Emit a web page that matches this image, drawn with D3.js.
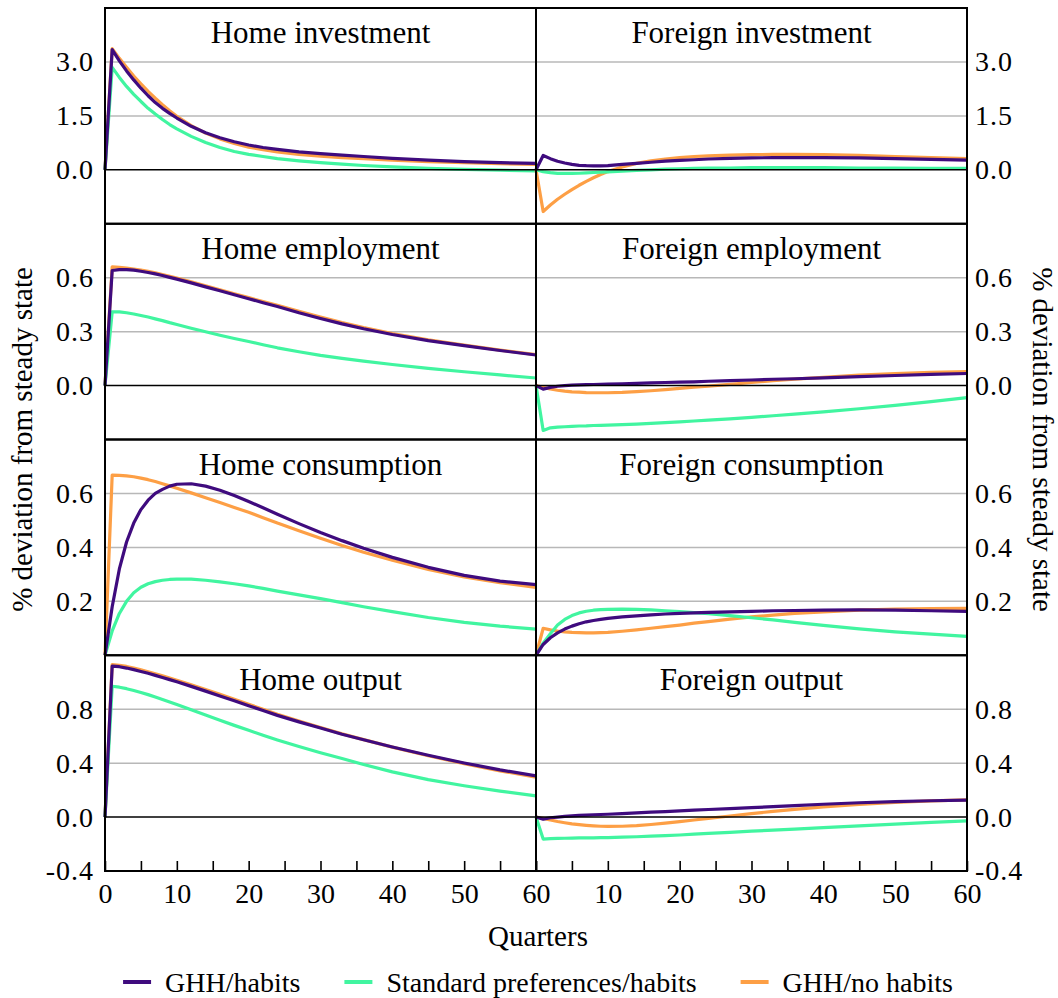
<!DOCTYPE html>
<html>
<head>
<meta charset="utf-8">
<script src="https://cdn.jsdelivr.net/npm/d3@7"></script>
<style>
  html, body { margin: 0; padding: 0; background: #ffffff; }
  svg { display: block; font-family: "Liberation Serif", "Times New Roman", Times, serif; }
</style>
</head>
<body>
<svg id="chart" width="1058" height="998"></svg>
<script>
// Impulse responses, % deviation from steady state, by quarter after the shock
const quarters = [0, 1, 2, 3, 4, 5, 6, 7, 8, 9, 10, 12, 14, 16, 18, 20, 22, 24, 27, 30, 33, 36, 40, 45, 50, 55, 60];

const seriesNames = ["GHH/habits", "Standard preferences/habits", "GHH/no habits"];
const seriesColors = ["#3f0b7e", "#41f5a0", "#fd9f45"];

// Home investment
const homeInvGHH   = [0, 3.34, 3.03, 2.75, 2.50, 2.27, 2.06, 1.87, 1.71, 1.57, 1.44, 1.21, 1.03, 0.89, 0.78, 0.69, 0.62, 0.57, 0.50, 0.45, 0.41, 0.37, 0.32, 0.27, 0.23, 0.20, 0.18];
const homeInvStd   = [0, 2.85, 2.57, 2.32, 2.10, 1.90, 1.71, 1.55, 1.40, 1.26, 1.14, 0.93, 0.76, 0.62, 0.51, 0.43, 0.37, 0.31, 0.25, 0.20, 0.16, 0.12, 0.08, 0.04, 0.01, -0.01, -0.03];
const homeInvNoHab = [0, 3.37, 3.10, 2.85, 2.61, 2.39, 2.18, 1.99, 1.81, 1.64, 1.49, 1.23, 1.02, 0.86, 0.73, 0.63, 0.56, 0.50, 0.43, 0.38, 0.34, 0.31, 0.27, 0.23, 0.20, 0.17, 0.15];

// Foreign investment
const forInvGHH    = [0, 0.40, 0.31, 0.24, 0.19, 0.15, 0.125, 0.115, 0.11, 0.112, 0.118, 0.15, 0.18, 0.21, 0.24, 0.26, 0.28, 0.30, 0.32, 0.33, 0.34, 0.34, 0.34, 0.33, 0.31, 0.29, 0.27];
const forInvStd    = [0, -0.05, -0.08, -0.10, -0.10, -0.10, -0.095, -0.085, -0.075, -0.065, -0.055, -0.035, -0.015, 0.0, 0.02, 0.03, 0.04, 0.05, 0.05, 0.06, 0.06, 0.06, 0.06, 0.05, 0.05, 0.04, 0.04];
const forInvNoHab  = [0, -1.16, -0.98, -0.82, -0.68, -0.55, -0.43, -0.32, -0.22, -0.13, -0.05, 0.08, 0.18, 0.25, 0.30, 0.34, 0.37, 0.39, 0.41, 0.42, 0.43, 0.43, 0.42, 0.40, 0.37, 0.34, 0.31];

// Home employment
const homeEmpGHH   = [0, 0.64, 0.645, 0.645, 0.642, 0.636, 0.629, 0.621, 0.612, 0.602, 0.592, 0.571, 0.549, 0.527, 0.505, 0.483, 0.461, 0.44, 0.405, 0.373, 0.343, 0.316, 0.284, 0.25, 0.222, 0.195, 0.17];
const homeEmpStd   = [0, 0.41, 0.41, 0.405, 0.398, 0.39, 0.381, 0.371, 0.361, 0.35, 0.34, 0.319, 0.299, 0.28, 0.262, 0.245, 0.227, 0.21, 0.188, 0.168, 0.151, 0.136, 0.117, 0.096, 0.077, 0.059, 0.042];
const homeEmpNoHab = [0, 0.66, 0.657, 0.653, 0.648, 0.642, 0.635, 0.627, 0.618, 0.608, 0.598, 0.577, 0.555, 0.533, 0.511, 0.489, 0.467, 0.446, 0.413, 0.381, 0.35, 0.322, 0.289, 0.254, 0.225, 0.197, 0.172];

// Foreign employment
const forEmpGHH    = [0, -0.02, -0.01, -0.004, 0.0, 0.002, 0.004, 0.005, 0.006, 0.007, 0.008, 0.01, 0.012, 0.015, 0.017, 0.019, 0.021, 0.024, 0.027, 0.031, 0.035, 0.038, 0.043, 0.05, 0.056, 0.062, 0.067];
const forEmpStd    = [0, -0.25, -0.235, -0.231, -0.229, -0.227, -0.225, -0.224, -0.222, -0.221, -0.22, -0.217, -0.214, -0.21, -0.206, -0.202, -0.197, -0.192, -0.185, -0.177, -0.168, -0.159, -0.146, -0.129, -0.11, -0.089, -0.067];
const forEmpNoHab  = [0, -0.01, -0.019, -0.026, -0.031, -0.035, -0.037, -0.039, -0.04, -0.04, -0.04, -0.038, -0.034, -0.029, -0.023, -0.016, -0.009, -0.003, 0.007, 0.017, 0.027, 0.036, 0.046, 0.058, 0.067, 0.073, 0.077];

// Home consumption
const homeConGHH   = [0, 0.18, 0.32, 0.42, 0.49, 0.54, 0.575, 0.60, 0.615, 0.627, 0.634, 0.636, 0.627, 0.612, 0.592, 0.57, 0.547, 0.523, 0.488, 0.455, 0.425, 0.397, 0.363, 0.326, 0.296, 0.275, 0.262];
const homeConStd   = [0, 0.09, 0.155, 0.20, 0.232, 0.252, 0.265, 0.273, 0.278, 0.281, 0.282, 0.282, 0.278, 0.272, 0.265, 0.257, 0.248, 0.238, 0.224, 0.21, 0.195, 0.18, 0.162, 0.14, 0.122, 0.108, 0.097];
const homeConNoHab = [0, 0.668, 0.667, 0.665, 0.662, 0.657, 0.651, 0.644, 0.636, 0.628, 0.619, 0.602, 0.584, 0.566, 0.548, 0.53, 0.51, 0.49, 0.462, 0.434, 0.407, 0.382, 0.352, 0.318, 0.29, 0.269, 0.252];

// Foreign consumption
const forConGHH    = [0, 0.04, 0.065, 0.083, 0.097, 0.108, 0.117, 0.124, 0.129, 0.133, 0.137, 0.142, 0.146, 0.15, 0.153, 0.155, 0.157, 0.159, 0.161, 0.163, 0.165, 0.166, 0.167, 0.168, 0.167, 0.165, 0.163];
const forConStd    = [0, 0.045, 0.08, 0.112, 0.133, 0.147, 0.157, 0.163, 0.167, 0.169, 0.17, 0.171, 0.17, 0.168, 0.165, 0.162, 0.158, 0.154, 0.147, 0.139, 0.131, 0.122, 0.111, 0.098, 0.087, 0.078, 0.07];
const forConNoHab  = [0, 0.10, 0.094, 0.09, 0.087, 0.085, 0.084, 0.083, 0.083, 0.084, 0.085, 0.089, 0.094, 0.10, 0.106, 0.112, 0.119, 0.125, 0.134, 0.142, 0.149, 0.155, 0.161, 0.167, 0.171, 0.173, 0.174];

// Home output
const homeOutGHH   = [0, 1.12, 1.115, 1.105, 1.093, 1.08, 1.066, 1.051, 1.035, 1.019, 1.003, 0.969, 0.934, 0.898, 0.862, 0.826, 0.79, 0.754, 0.706, 0.66, 0.614, 0.573, 0.52, 0.458, 0.401, 0.35, 0.306];
const homeOutStd   = [0, 0.97, 0.963, 0.952, 0.939, 0.924, 0.908, 0.89, 0.872, 0.853, 0.834, 0.795, 0.756, 0.718, 0.68, 0.643, 0.607, 0.572, 0.523, 0.477, 0.434, 0.39, 0.335, 0.278, 0.232, 0.192, 0.157];
const homeOutNoHab = [0, 1.13, 1.126, 1.117, 1.105, 1.092, 1.078, 1.063, 1.047, 1.031, 1.015, 0.981, 0.946, 0.91, 0.873, 0.836, 0.80, 0.763, 0.713, 0.664, 0.617, 0.574, 0.519, 0.455, 0.396, 0.343, 0.295];

// Foreign output
const forOutGHH    = [0, -0.015, -0.005, 0.0, 0.005, 0.009, 0.012, 0.015, 0.017, 0.019, 0.021, 0.026, 0.031, 0.036, 0.041, 0.046, 0.051, 0.056, 0.063, 0.07, 0.077, 0.085, 0.095, 0.106, 0.115, 0.121, 0.125];
const forOutStd    = [0, -0.163, -0.16, -0.158, -0.157, -0.156, -0.155, -0.155, -0.154, -0.153, -0.152, -0.149, -0.146, -0.142, -0.138, -0.133, -0.127, -0.121, -0.113, -0.105, -0.097, -0.089, -0.078, -0.065, -0.052, -0.04, -0.028];
const forOutNoHab  = [0, -0.01, -0.022, -0.033, -0.042, -0.05, -0.056, -0.061, -0.065, -0.068, -0.069, -0.068, -0.063, -0.055, -0.045, -0.034, -0.022, -0.01, 0.008, 0.026, 0.042, 0.057, 0.075, 0.094, 0.109, 0.12, 0.128];

// Row settings: vertical range and labelled ticks
const rowDomains = [[-1.5, 4.5], [-0.3, 0.9], [0, 0.8], [-0.4, 1.2]];
const rowTicks   = [[0, 1.5, 3.0], [0, 0.3, 0.6], [0.2, 0.4, 0.6], [-0.4, 0, 0.4, 0.8]];
const xTickValues = d3.range(0, 61, 5);

const panels = [
  { title: "Home investment",     row: 0, col: 0, series: [homeInvGHH, homeInvStd, homeInvNoHab] },
  { title: "Foreign investment",  row: 0, col: 1, series: [forInvGHH, forInvStd, forInvNoHab] },
  { title: "Home employment",     row: 1, col: 0, series: [homeEmpGHH, homeEmpStd, homeEmpNoHab] },
  { title: "Foreign employment",  row: 1, col: 1, series: [forEmpGHH, forEmpStd, forEmpNoHab] },
  { title: "Home consumption",    row: 2, col: 0, series: [homeConGHH, homeConStd, homeConNoHab] },
  { title: "Foreign consumption", row: 2, col: 1, series: [forConGHH, forConStd, forConNoHab] },
  { title: "Home output",         row: 3, col: 0, series: [homeOutGHH, homeOutStd, homeOutNoHab] },
  { title: "Foreign output",      row: 3, col: 1, series: [forOutGHH, forOutStd, forOutNoHab] }
];

// Layout
const plotLeft = 105, plotRight = 967, plotTop = 8, plotBottom = 871;
const colW = (plotRight - plotLeft) / 2;
const rowH = (plotBottom - plotTop) / 4;
const fmt = d => d.toFixed(1);

const svg = d3.select("#chart");
const gridG = svg.append("g");
const lineG = svg.append("g");
const frameG = svg.append("g");
const textG = svg.append("g");

const xScales = [0, 1].map(c =>
  d3.scaleLinear().domain([0, 60]).range([plotLeft + c * colW, plotLeft + (c + 1) * colW]));
const yScales = [0, 1, 2, 3].map(r =>
  d3.scaleLinear().domain(rowDomains[r]).range([plotTop + (r + 1) * rowH, plotTop + r * rowH]));

// Horizontal grid lines, spanning both columns of each row
rowTicks.forEach((ticks, r) => {
  const y = yScales[r];
  const [lo, hi] = rowDomains[r];
  ticks.filter(t => t !== 0 && t > lo && t < hi).forEach(t => {
    gridG.append("line")
      .attr("x1", plotLeft).attr("x2", plotRight)
      .attr("y1", y(t)).attr("y2", y(t))
      .attr("stroke", "#b8b8b8").attr("stroke-width", 1.5);
  });
  if (lo < 0 && hi > 0) {
    frameG.append("line")
      .attr("x1", plotLeft).attr("x2", plotRight)
      .attr("y1", y(0)).attr("y2", y(0))
      .attr("stroke", "#000").attr("stroke-width", 1.6);
  }
});

// Response lines; drawn so the GHH/habits line ends up on top
const drawOrder = [2, 1, 0];
panels.forEach(p => {
  const x = xScales[p.col], y = yScales[p.row];
  const line = d3.line().x((d, i) => x(quarters[i])).y(d => y(d)).curve(d3.curveLinear);
  drawOrder.forEach(s => {
    lineG.append("path")
      .datum(p.series[s])
      .attr("d", line)
      .attr("fill", "none")
      .attr("stroke", seriesColors[s])
      .attr("stroke-width", 3.2)
      .attr("stroke-linejoin", "round");
  });
  textG.append("text")
    .attr("x", x(30))
    .attr("y", y.range()[1] + 35)
    .attr("text-anchor", "middle")
    .attr("font-size", 31)
    .attr("fill", "#000")
    .text(p.title);
});

// Panel frames
for (let r = 0; r < 4; r++) {
  for (let c = 0; c < 2; c++) {
    frameG.append("rect")
      .attr("x", plotLeft + c * colW).attr("y", plotTop + r * rowH)
      .attr("width", colW).attr("height", rowH)
      .attr("fill", "none").attr("stroke", "#000").attr("stroke-width", 2);
  }
}

// Y-axis labels on both outer sides
rowTicks.forEach((ticks, r) => {
  const left = d3.axisLeft(yScales[r]).tickValues(ticks).tickSize(0).tickPadding(11).tickFormat(fmt);
  const right = d3.axisRight(yScales[r]).tickValues(ticks).tickSize(0).tickPadding(8).tickFormat(fmt);
  [[left, plotLeft], [right, plotRight]].forEach(([ax, xPos]) => {
    const g = textG.append("g").attr("transform", `translate(${xPos},0)`).call(ax);
    g.select(".domain").remove();
    g.selectAll("text").attr("font-size", 28).attr("letter-spacing", 1).attr("fill", "#000");
    g.attr("font-family", null).attr("font-size", null);
  });
});

// X axes: inward tick marks every 5 quarters, labels every 10
[0, 1].forEach(c => {
  const ax = d3.axisBottom(xScales[c])
    .tickValues(xTickValues)
    .tickSize(-10)
    .tickPadding(12)
    .tickFormat(d => (d % 10 === 0 && !(c === 1 && d === 0)) ? d : "");
  const g = textG.append("g").attr("transform", `translate(0,${plotBottom})`).call(ax);
  g.select(".domain").remove();
  g.selectAll("line").attr("stroke", "#000").attr("stroke-width", 1.6);
  g.selectAll("text").attr("font-size", 28).attr("fill", "#000");
  g.attr("font-family", null).attr("font-size", null);
});

// Axis titles
textG.append("text")
  .attr("x", (plotLeft + plotRight) / 2 + 2).attr("y", 946)
  .attr("text-anchor", "middle").attr("font-size", 29)
  .text("Quarters");

textG.append("text")
  .attr("transform", `translate(22,${(plotTop + plotBottom) / 2}) rotate(-90)`)
  .attr("text-anchor", "middle").attr("dy", "0.35em").attr("font-size", 29)
  .text("% deviation from steady state");

textG.append("text")
  .attr("transform", `translate(1043,${(plotTop + plotBottom) / 2}) rotate(90)`)
  .attr("text-anchor", "middle").attr("dy", "0.35em").attr("font-size", 29)
  .text("% deviation from steady state");

// Legend, centred under the plot
const legend = svg.append("g");
const swatchW = 28, swatchGap = 14, itemGap = 44;
let cursor = 0;
seriesNames.forEach((name, i) => {
  const g = legend.append("g");
  g.append("line")
    .attr("x1", 0).attr("x2", swatchW).attr("y1", 0).attr("y2", 0)
    .attr("stroke", seriesColors[i]).attr("stroke-width", 4);
  const t = g.append("text")
    .attr("x", swatchW + swatchGap).attr("y", 0).attr("dy", "0.35em")
    .attr("font-size", 28).text(name);
  const w = swatchW + swatchGap + t.node().getComputedTextLength();
  g.attr("transform", `translate(${cursor},0)`);
  cursor += w + itemGap;
});
const totalW = cursor - itemGap;
legend.attr("transform", `translate(${(plotLeft + plotRight) / 2 + 2 - totalW / 2},982)`);
</script>
</body>
</html>
